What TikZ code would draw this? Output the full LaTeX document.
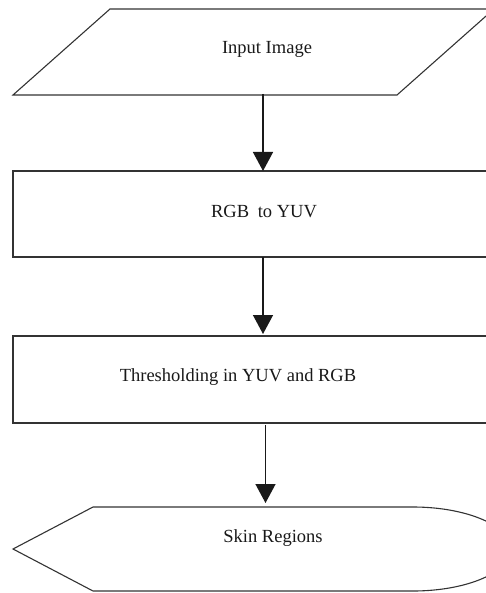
\documentclass[tikz,border=0pt]{standalone}
\usepackage{fontspec}
\setmainfont{Liberation Serif}
\usetikzlibrary{arrows.meta}
\begin{document}
\begin{tikzpicture}[x=1pt,y=-1pt,
  shapeline/.style={draw=black!80,line width=1.1pt},
  flowarrow/.style={draw=black!90,line width=1.4pt,-{Triangle[width=20pt,length=19pt]}},
  lbl/.style={inner sep=0pt,font=\fontsize{18.5}{21}\selectfont,text=black!90}]
\useasboundingbox (0,0) rectangle (486,593);
\clip (0,0) rectangle (486,593);
% shapes
\draw[shapeline] (13,95) -- (110,9) -- (494,9) -- (397,95) -- cycle;
\draw[shapeline] (13,171) rectangle (500,257);
\draw[shapeline] (13,336) rectangle (500,423);
\draw[shapeline] (13,549) -- (93,507) -- (413,507)
  .. controls (467,507) and (511,526) .. (511,549)
  .. controls (511,572) and (467,591) .. (413,591) -- (93,591) -- cycle;
% labels
\node[lbl] (inp) at (267,49) {Input Image};
\node[lbl] (rgb) at (264,212) {RGB\hspace{4pt} to YUV};
\node[lbl] (thr) at (238,377) {Thresholding in YUV and RGB};
\node[lbl] (skin) at (273,538) {Skin Regions};
% connector ends
\coordinate (a1s) at (263,94);
\coordinate (a1e) at (263,171);
\coordinate (a2s) at (263,257);
\coordinate (a2e) at (263,334);
\coordinate (a3s) at (265.5,425);
\coordinate (a3e) at (265.5,503);
\draw[flowarrow] (a1s) -- (a1e);
\draw[flowarrow] (a2s) -- (a2e);
\draw[flowarrow] (a3s) -- (a3e);
\end{tikzpicture}
\end{document}
